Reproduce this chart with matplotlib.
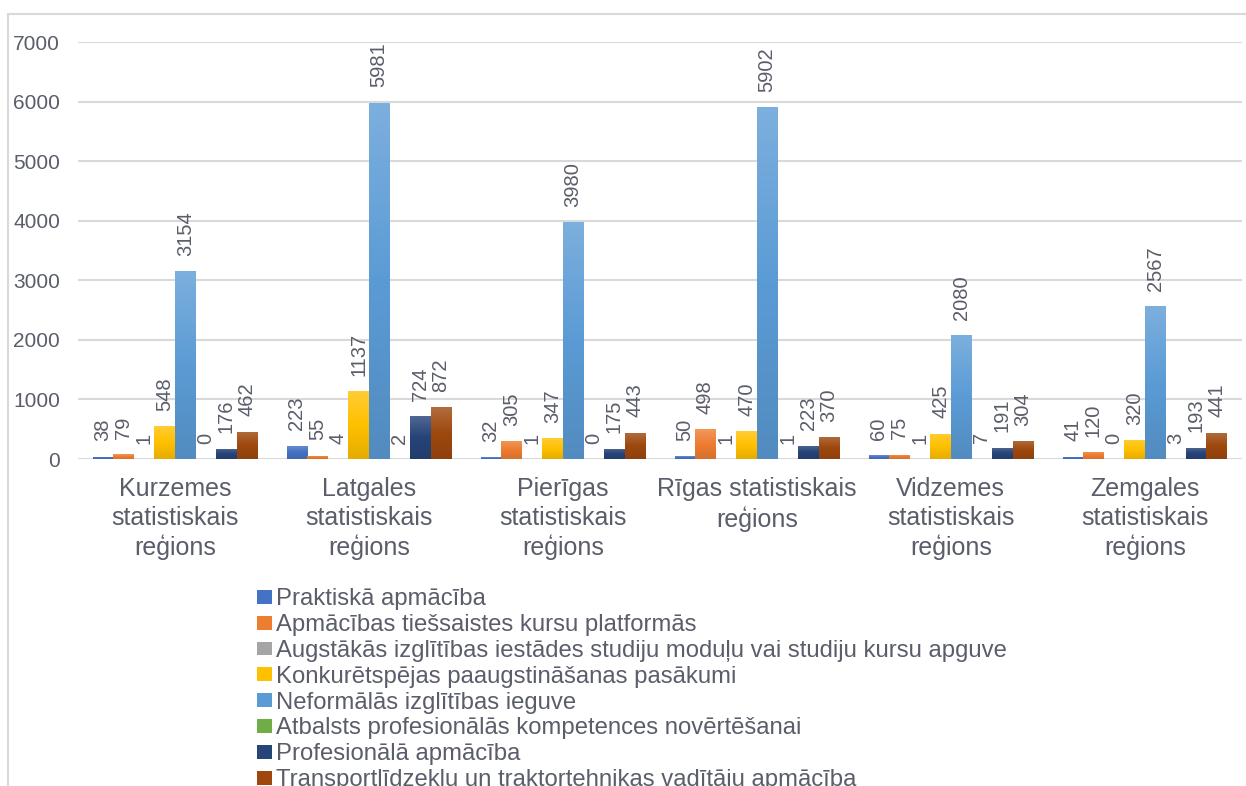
import numpy as np
import matplotlib.pyplot as plt
from matplotlib.patches import Rectangle
from matplotlib.colors import LinearSegmentedColormap, to_rgb

plt.rcParams['font.family'] = ['Liberation Sans', 'DejaVu Sans']

regions = ['Kurzemes\nstatistiskais\nreģions', 'Latgales\nstatistiskais\nreģions',
           'Pierīgas\nstatistiskais\nreģions', 'Rīgas statistiskais\nreģions',
           'Vidzemes\nstatistiskais\nreģions', 'Zemgales\nstatistiskais\nreģions']

series_names = ['Praktiskā apmācība',
                'Apmācības tiešsaistes kursu platformās',
                'Augstākās izglītības iestādes studiju moduļu vai studiju kursu apguve',
                'Konkurētspējas paaugstināšanas pasākumi',
                'Neformālās izglītības ieguve',
                'Atbalsts profesionālās kompetences novērtēšanai',
                'Profesionālā apmācība',
                'Transportlīdzekļu un traktortehnikas vadītāju apmācība']

praktiska = [38, 223, 32, 50, 60, 41]
tiessaistes = [79, 55, 305, 498, 75, 120]
augstakas = [1, 4, 1, 1, 1, 0]
konkuretspejas = [548, 1137, 347, 470, 425, 320]
neformalas = [3154, 5981, 3980, 5902, 2080, 2567]
atbalsts = [0, 2, 0, 1, 7, 3]
profesionala = [176, 724, 175, 223, 191, 193]
transports = [462, 872, 443, 370, 304, 441]

values = [praktiska, tiessaistes, augstakas, konkuretspejas,
          neformalas, atbalsts, profesionala, transports]
colors = ['#4472C4', '#ED7D31', '#A5A5A5', '#FFC000',
          '#5B9BD5', '#70AD47', '#264478', '#9E480E']

text_color = '#5A5D6A'


def grad_cmap(c):
    base = np.array(to_rgb(c))
    top = base + (1 - base) * 0.2
    bottom = base * 0.9
    return LinearSegmentedColormap.from_list('g', [bottom, base, top])


fig = plt.figure(figsize=(12.46, 7.86), dpi=100)
ax = fig.add_axes([0.0626, 0.416, 0.934, 0.5305])

x = np.arange(len(regions))
w = 0.106
n = len(values)
grad = np.linspace(0, 1, 64).reshape(-1, 1)
for i, (vals, col, name) in enumerate(zip(values, colors, series_names)):
    pos = x + (i - (n - 1) / 2) * w
    bars = ax.bar(pos, vals, w, color=col, label=name, zorder=3)
    cmap = grad_cmap(col)
    for b, v in zip(bars, vals):
        if v > 0:
            im = ax.imshow(grad, cmap=cmap, origin='lower', aspect='auto',
                           extent=[b.get_x(), b.get_x() + b.get_width(), 0, v],
                           zorder=3.5, interpolation='bilinear')
            im.set_clip_path(b)
        ax.annotate(str(v), (b.get_x() + b.get_width() / 2, v),
                    xytext=(0, 11), textcoords='offset points',
                    rotation=90, ha='center', va='bottom',
                    fontsize=14.5, color=text_color)

ax.set_xlim(-0.5, len(regions) - 0.5)
ax.set_ylim(0, 7000)
ax.set_yticks(range(0, 7001, 1000))
ax.grid(axis='y', color='#D9D9D9', linewidth=1.5, zorder=0)
for s in ax.spines.values():
    s.set_visible(False)
ax.tick_params(axis='both', length=0, labelcolor=text_color)
ax.tick_params(axis='y', labelsize=15, pad=13)
ax.tick_params(axis='x', labelsize=18, pad=13)
ax.set_xticks(x)
ax.set_xticklabels(regions, linespacing=1.25)

fig.legend(loc='upper left', bbox_to_anchor=(0.2065, 0.2515), frameon=False,
           fontsize=17.2, labelcolor=text_color, handlelength=0.6,
           handleheight=0.52, handletextpad=0.2, labelspacing=0.16,
           borderpad=0, borderaxespad=0)

fig.patches.append(Rectangle((8 / 1246, -0.2), 1.2, 1.2 - 14 / 786,
                             transform=fig.transFigure, fill=False,
                             edgecolor='#D9D9D9', linewidth=1.5))

fig.savefig('out.png', dpi=100)
